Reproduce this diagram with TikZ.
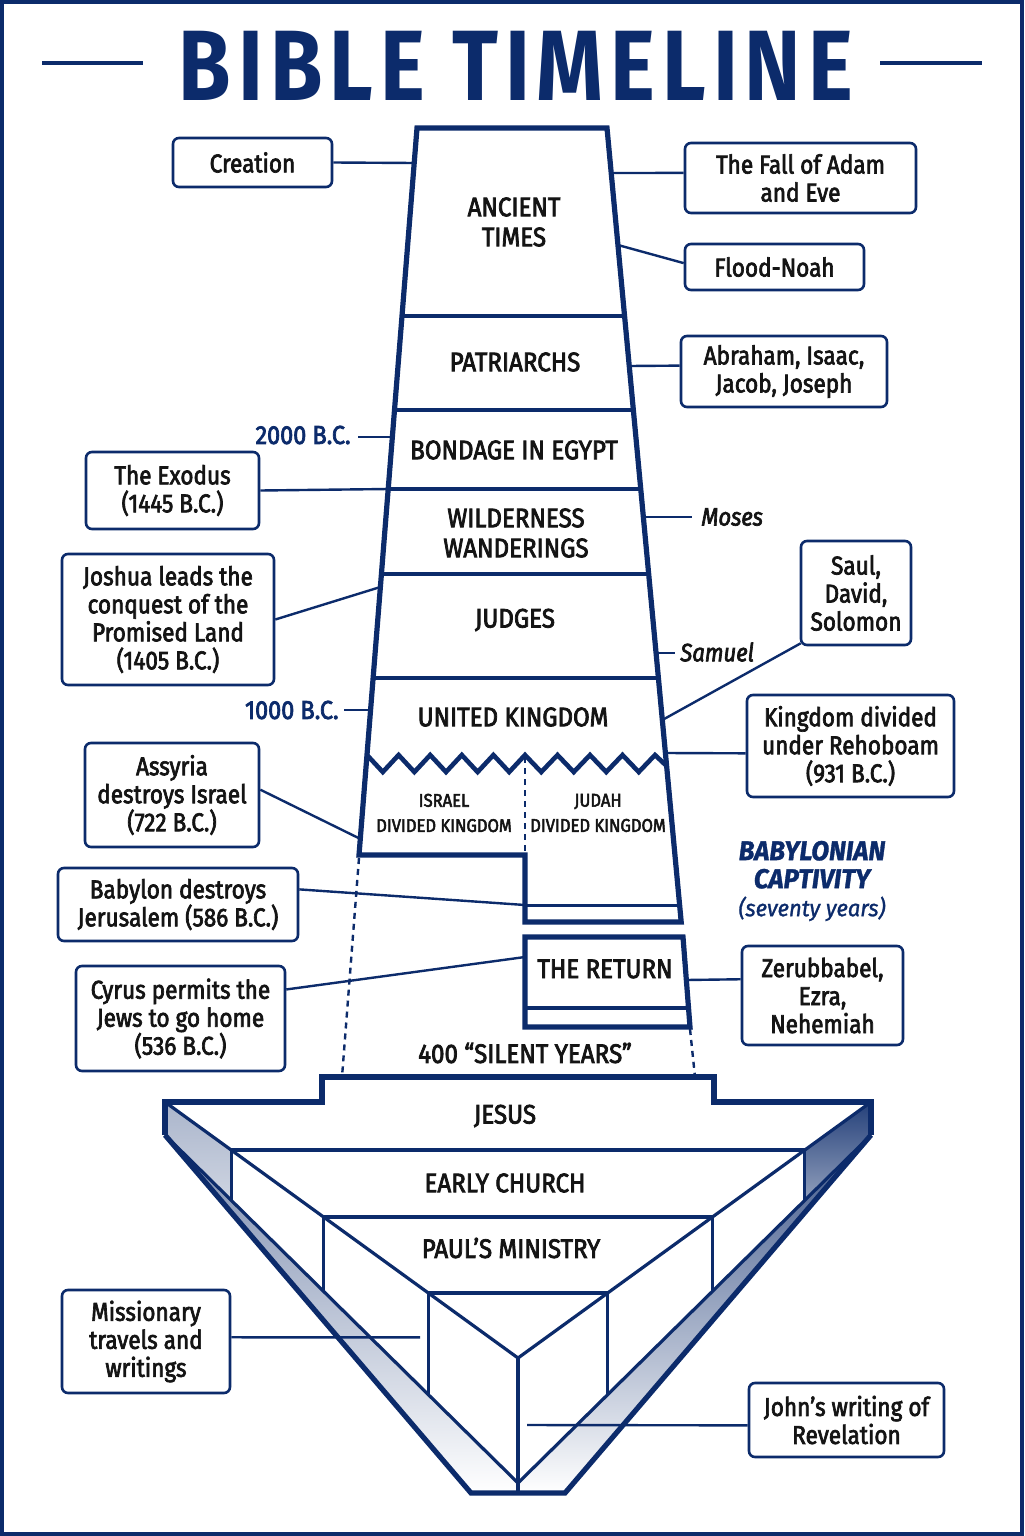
\documentclass[tikz,border=0pt]{standalone}
\usepackage{fontspec}
\setmainfont{Fira Sans}[FakeStretch=0.9]
\newfontfamily\boxf{Fira Sans}[FakeStretch=0.875, FakeBold=2.6]
\newfontfamily\lblf{Fira Sans}[FakeStretch=0.9, FakeBold=2.8]
\newfontfamily\captf{Fira Sans}[FakeStretch=0.95, FakeBold=1.2]
\newfontfamily\titlef{Fira Sans}[FakeStretch=0.85, LetterSpace=7]
\usetikzlibrary{calc}
\definecolor{navy}{HTML}{0C2B6B}
\definecolor{ink}{HTML}{141414}
\tikzset{
  tower/.style={draw=navy, line width=2.6pt, line join=miter},
  divider/.style={draw=navy, line width=2.4pt},
  thinl/.style={draw=navy, line width=1.5pt},
  funl/.style={draw=navy, line width=1.6pt},
  conn/.style={draw=navy, line width=1.2pt},
  dashl/.style={draw=navy, line width=1.2pt, dash pattern=on 3pt off 2.5pt},
  ebox/.style={draw=navy, line width=1.3pt, rounded corners=3pt, fill=white, align=center,
    text=ink, inner sep=0pt, font=\boxf\fontsize{12.9}{14}\selectfont},
  tlabel/.style={text=ink, align=center, inner sep=0pt, font=\lblf\fontsize{13.4}{15}\selectfont},
  slabel/.style={text=ink, align=center, inner sep=0pt, font=\lblf\fontsize{9.2}{12.6}\selectfont},
  datelabel/.style={text=navy, inner sep=0pt, font=\lblf\fontsize{13}{14}\selectfont},
  namelabel/.style={text=ink, inner sep=0pt, font=\boxf\itshape\fontsize{12.6}{14}\selectfont},
  capt/.style={text=navy, align=center, inner sep=0pt, font=\captf\itshape\fontsize{13.6}{14}\selectfont},
}
\begin{document}
\begin{tikzpicture}[x=0.5pt,y=-0.5pt]
\useasboundingbox (0,0) rectangle (1024,1536);
\fill[white] (0,0) rectangle (1024,1536);
\draw[navy, line width=2.2pt] (2.2,2.2) rectangle (1021.8,1533.8);

% ---------- title ----------
\node[text=navy, inner sep=0pt, font=\titlef\bfseries\fontsize{50}{50}\selectfont] (title) at (516,66) {BIBLE TIMELINE};
\coordinate (tla) at (42,63); \coordinate (tlb) at (143,63);
\coordinate (tra) at (880,63); \coordinate (trb) at (982,63);
\draw[navy, line width=2.1pt] (tla) -- (tlb);
\draw[navy, line width=2.1pt] (tra) -- (trb);

% ---------- tower ----------
\draw[tower] (417,128) -- (607,128) -- (681.2,922) -- (525,922) -- (525,855) -- (359,855) -- cycle;
\draw[divider] (402,316) -- (624.6,316);
\draw[divider] (394.5,410) -- (633.3,410);
\draw[divider] (388.2,489) -- (640.7,489);
\draw[divider] (381.4,574) -- (648.7,574);
\draw[divider] (373.1,678) -- (658.4,678);
\draw[thinl] (525,905) -- (679.6,905);
% zigzag
\draw[navy, line width=2.3pt, line join=miter] (367,755)
  foreach \i in {1,...,5} { -- ++(15.8,17) -- ++(15.8,-17) }
  foreach \i in {1,...,4} { -- ++(16.25,17) -- ++(16.25,-17) } -- (665.6,765);
\draw[dashl] (525,757) -- (525,853);

% the return
\draw[tower] (525,937) -- (683,937) -- (690,1027) -- (525,1027) -- cycle;
\draw[divider] (525,1008) -- (688.5,1008);

% dashed silent years
\draw[dashl] (359,858) -- (342,1077);
\draw[dashl] (690,1029) -- (695,1077);

% ---------- funnel ----------
\shade[top color=navy!55, bottom color=white] (165,1135) -- (471,1493) -- (518,1493) -- (518,1483) -- cycle;
\shade[top color=navy!80, bottom color=white] (871,1135) -- (565,1493) -- (518,1493) -- (518,1483) -- cycle;
\shade[top color=navy!35, bottom color=navy!20] (165,1102) -- (231.2,1150) -- (231.2,1200.3) -- (165,1135) -- cycle;
\shade[top color=navy!90, bottom color=navy!45] (871,1102) -- (804.8,1150) -- (804.8,1200.3) -- (871,1135) -- cycle;

\draw[funl] (165,1102) -- (518,1358) -- (871,1102);
\draw[funl] (165,1135) -- (518,1483) -- (871,1135);
\draw[funl] (518,1358) -- (518,1493);
\draw[navy, line width=1.9pt] (231.2,1150) -- (804.8,1150);
\draw[navy, line width=1.9pt] (323.6,1217) -- (712.4,1217);
\draw[navy, line width=1.9pt] (428.4,1293) -- (607.6,1293);
\draw[funl] (231.2,1150) -- (231.2,1200.3);
\draw[funl] (323.6,1217) -- (323.6,1291.4);
\draw[funl] (428.4,1293) -- (428.4,1394.8);
\draw[funl] (804.8,1150) -- (804.8,1200.3);
\draw[funl] (712.4,1217) -- (712.4,1291.4);
\draw[funl] (607.6,1293) -- (607.6,1394.8);
\draw[tower] (165,1135) -- (165,1102) -- (322,1102) -- (322,1077) -- (714,1077) -- (714,1102) -- (871,1102) -- (871,1135);
\draw[tower] (165,1135) -- (471,1493) -- (565,1493) -- (871,1135);

% ---------- labels in tower ----------
\node[tlabel] (ancient) at (514,222) {ANCIENT\\TIMES};
\node[tlabel] (patri) at (515,362) {PATRIARCHS};
\node[tlabel] (bondage) at (514,450) {BONDAGE IN EGYPT};
\node[tlabel] (wild) at (516,533) {WILDERNESS\\WANDERINGS};
\node[tlabel] (judges) at (515,620) {JUDGES};
\node[tlabel] (united) at (513,717) {UNITED KINGDOM};
\node[slabel] (israel) at (444,813) {ISRAEL\\DIVIDED KINGDOM};
\node[slabel] (judah) at (598,813) {JUDAH\\DIVIDED KINGDOM};
\node[tlabel] (return) at (605,969) {THE RETURN};
\node[tlabel] (silent) at (525,1053) {400 “SILENT YEARS”};
\node[tlabel] (jesus) at (505,1116) {JESUS};
\node[tlabel] (early) at (505,1183) {EARLY CHURCH};
\node[tlabel] (paul) at (511,1248) {PAUL’S MINISTRY};

% ---------- edge anchor coordinates ----------
\coordinate (e-creation) at (414.2,163);
\coordinate (e-fall) at (611.2,173);
\coordinate (e-flood) at (617.9,245);
\coordinate (e-abraham) at (629.2,366);
\coordinate (e-2000) at (392.3,437);
\coordinate (e-exodus) at (388.2,489);
\coordinate (e-moses) at (643.3,517);
\coordinate (e-joshua) at (380.4,587);
\coordinate (e-samuel) at (656,653);
\coordinate (e-1000) at (370.6,710);
\coordinate (e-saul) at (662.3,720);
\coordinate (e-rehoboam) at (665.4,753);
\coordinate (e-assyria) at (358.5,838);
\coordinate (e-babylon) at (525,905);
\coordinate (e-cyrus) at (525,957);
\coordinate (e-zerub) at (686.3,980);
\coordinate (e-miss) at (420,1337.4);
\coordinate (e-john) at (527,1425);

% ---------- event boxes ----------
\node[ebox, minimum width=79.5pt, minimum height=24.5pt] (creation) at (252.5,162.5) {Creation};
\node[ebox, minimum width=115.5pt, minimum height=35pt] (fall) at (800.5,178) {The Fall of Adam\\and Eve};
\node[ebox, minimum width=89.5pt, minimum height=23pt] (flood) at (774.5,267) {Flood-Noah};
\node[ebox, minimum width=103pt, minimum height=35.5pt] (abraham) at (784,371.5) {Abraham, Isaac,\\Jacob, Joseph};
\node[ebox, minimum width=86.5pt, minimum height=38.5pt] (exodus) at (172.5,490.5) {The Exodus\\(1445 B.C.)};
\node[ebox, minimum width=106pt, minimum height=65.5pt] (joshua) at (168,619.5) {Joshua leads the\\conquest of the\\Promised Land\\(1405 B.C.)};
\node[ebox, minimum width=55pt, minimum height=52pt] (saul) at (856,593) {Saul,\\David,\\Solomon};
\node[ebox, minimum width=103.5pt, minimum height=51pt] (rehoboam) at (850.5,746) {Kingdom divided\\under Rehoboam\\(931 B.C.)};
\node[ebox, minimum width=87pt, minimum height=52pt] (assyria) at (172,795) {Assyria\\destroys Israel\\(722 B.C.)};
\node[ebox, minimum width=120pt, minimum height=36.5pt] (babylon) at (178,904.5) {Babylon destroys\\Jerusalem (586 B.C.)};
\node[ebox, minimum width=104.5pt, minimum height=52.5pt] (cyrus) at (180.5,1018.5) {Cyrus permits the\\Jews to go home\\(536 B.C.)};
\node[ebox, minimum width=80.5pt, minimum height=49.5pt] (zerub) at (822.5,995.5) {Zerubbabel,\\Ezra,\\Nehemiah};
\node[ebox, minimum width=84pt, minimum height=51.5pt] (miss) at (146,1341.5) {Missionary\\travels and\\writings};
\node[ebox, minimum width=97.5pt, minimum height=37pt] (john) at (846.5,1420) {John’s writing of\\Revelation};

% ---------- plain labels ----------
\node[datelabel, anchor=east] (d2000) at (351,435) {2000 B.C.};
\node[datelabel, anchor=east] (d1000) at (339,710) {1000 B.C.};
\node[namelabel, anchor=west] (moses) at (701,517) {Moses};
\coordinate (moses-l) at (692,517);
\node[namelabel, anchor=west] (samuel) at (680,652) {Samuel};
\coordinate (samuel-l) at (675,653);
\coordinate (d2000-l) at (358,437);
\coordinate (d1000-l) at (344,710);
\node[capt] (captivity) at (812,881) {\bfseries BABYLONIAN\\\bfseries CAPTIVITY\\\mdseries\fontsize{11.6}{14}\selectfont(seventy years)};

% ---------- connectors ----------
\draw[conn] (creation.east) -- (e-creation);
\draw[conn] ($(fall.north west)!0.43!(fall.south west)$) -- (e-fall);
\draw[conn] ($(flood.north west)!0.42!(flood.south west)$) -- (e-flood);
\draw[conn] ($(abraham.north west)!0.42!(abraham.south west)$) -- (e-abraham);
\draw[conn] (d2000-l) -- (e-2000);
\draw[conn] (exodus.east) -- (e-exodus);
\draw[conn] (e-moses) -- (moses-l);
\draw[conn] (joshua.east) -- (e-joshua);
\draw[conn] (e-samuel) -- (samuel-l);
\draw[conn] (d1000-l) -- (e-1000);
\draw[conn] ($(saul.south west)+(1,-3)$) -- (e-saul);
\draw[conn] ($(rehoboam.north west)!0.57!(rehoboam.south west)$) -- (e-rehoboam);
\draw[conn] ($(assyria.north east)!0.45!(assyria.south east)$) -- (e-assyria);
\draw[conn] ($(babylon.north east)!0.3!(babylon.south east)$) -- (e-babylon);
\draw[conn] ($(cyrus.north east)!0.23!(cyrus.south east)$) -- (e-cyrus);
\draw[conn] ($(zerub.north west)!0.34!(zerub.south west)$) -- (e-zerub);
\draw[conn] ($(miss.north east)!0.46!(miss.south east)$) -- (e-miss);
\draw[conn] ($(john.north west)!0.57!(john.south west)$) -- (e-john);
\end{tikzpicture}
\end{document}
